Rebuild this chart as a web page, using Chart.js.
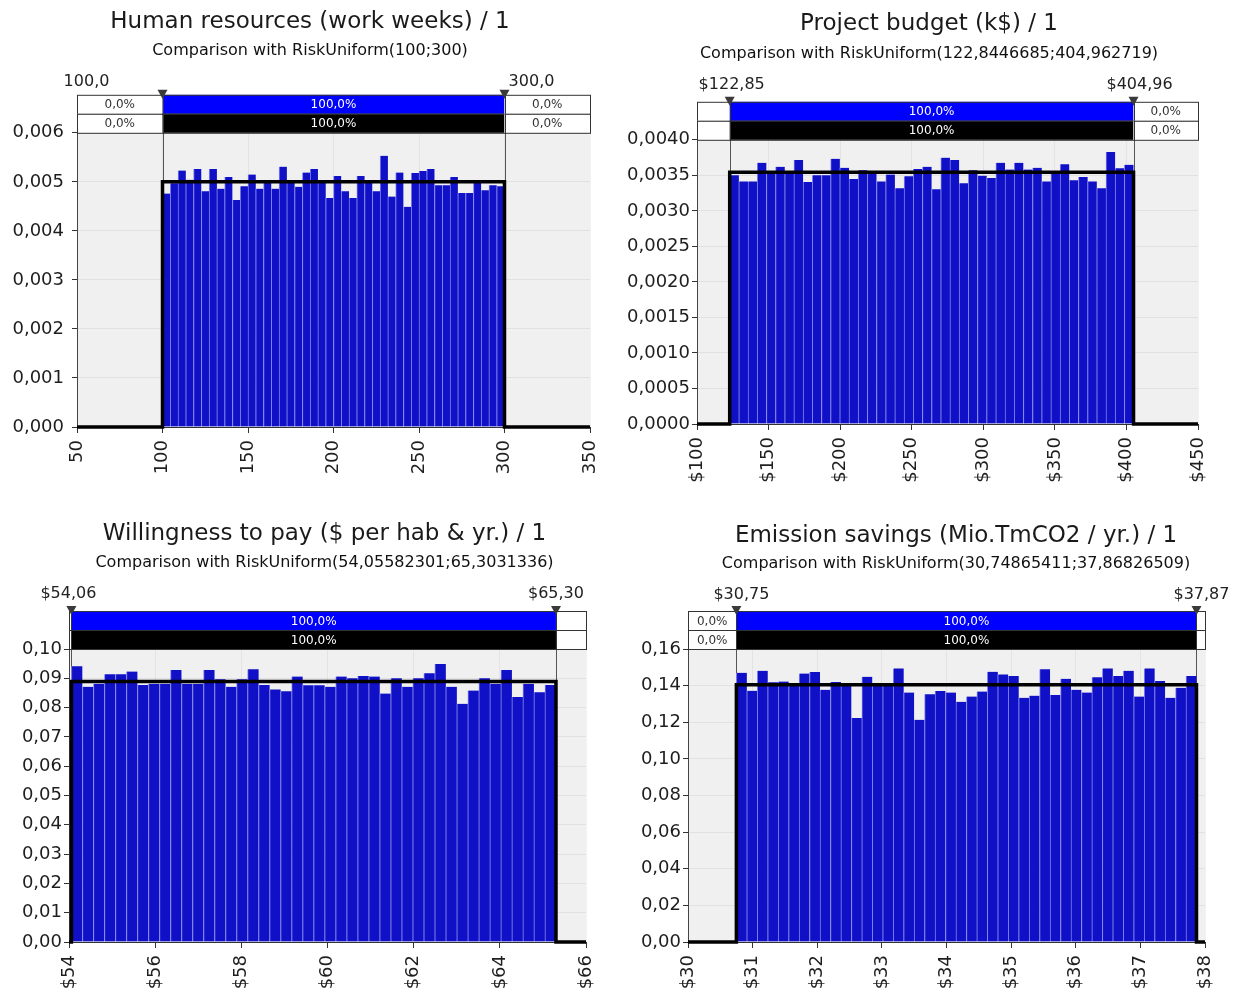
<!DOCTYPE html>
<html><head><meta charset="utf-8">
<script src="https://cdn.jsdelivr.net/npm/chart.js@4.4.1/dist/chart.umd.min.js"></script>
<style>
html,body{margin:0;padding:0;background:#fff;}
body{width:1241px;height:997px;position:relative;overflow:hidden;}
canvas{position:absolute;}
</style></head><body>
<canvas id="c1" width="620" height="497" style="left:0;top:0"></canvas>
<canvas id="c2" width="621" height="497" style="left:620px;top:0"></canvas>
<canvas id="c3" width="620" height="500" style="left:0;top:497px"></canvas>
<canvas id="c4" width="621" height="500" style="left:620px;top:497px"></canvas>
<script>
// ---------- DATA ----------
const hrTitle = 'Human resources (work weeks) / 1';
const hrSubtitle = 'Comparison with RiskUniform(100;300)';
const hrRange = [100, 300];
const hrDensity = 0.005;
const hrXTicks = [50, 350, 50];
const hrYTicks = [0.006, 0.001, 3];
const hrMarkerLabels = ['100,0', '300,0'];
const hrBandTop = ['0,0%', '100,0%', '0,0%'];
const hrBandBottom = ['0,0%', '100,0%', '0,0%'];
const hrValues = [0.00476,0.00497,0.00523,0.00504,0.00526,0.00481,0.00526,0.00486,0.0051,0.00463,0.00491,0.00515,0.00486,0.00498,0.00486,0.00531,0.00498,0.0049,0.00519,0.00526,0.00498,0.00467,0.00512,0.00481,0.00467,0.00512,0.00498,0.00481,0.00553,0.0047,0.00519,0.00449,0.00518,0.00522,0.00526,0.00493,0.00493,0.0051,0.00477,0.00477,0.00498,0.00483,0.00493,0.00491];

const budgetTitle = 'Project budget (k$) / 1';
const budgetSubtitle = 'Comparison with RiskUniform(122,8446685;404,962719)';
const budgetRange = [122.8446685, 404.962719];
const budgetDensity = 0.003545;
const budgetXTicks = [100, 450, 50];
const budgetYTicks = [0.004, 0.0005, 4];
const budgetMarkerLabels = ['$122,85', '$404,96'];
const budgetBandTop = ['', '100,0%', '0,0%'];
const budgetBandBottom = ['', '100,0%', '0,0%'];
const budgetValues = [0.0035,0.003414,0.003414,0.003676,0.003557,0.003619,0.003557,0.003714,0.003405,0.0035,0.0035,0.003733,0.003605,0.003448,0.003571,0.003543,0.003414,0.00351,0.003319,0.003486,0.00359,0.003619,0.003305,0.003748,0.003714,0.00339,0.003571,0.003495,0.003462,0.003676,0.003581,0.003676,0.003581,0.003605,0.003414,0.003543,0.003657,0.003429,0.003476,0.003414,0.003319,0.003829,0.0036,0.003648];

const wtpTitle = 'Willingness to pay ($ per hab & yr.) / 1';
const wtpSubtitle = 'Comparison with RiskUniform(54,05582301;65,3031336)';
const wtpRange = [54.05582301, 65.3031336];
const wtpDensity = 0.0889;
const wtpXTicks = [54, 66, 2];
const wtpYTicks = [0.10, 0.01, 2];
const wtpMarkerLabels = ['$54,06', '$65,30'];
const wtpBandTop = ['', '100,0%', ''];
const wtpBandBottom = ['', '100,0%', ''];
const wtpValues = [0.0941,0.0871,0.0881,0.0914,0.0914,0.0923,0.0877,0.0881,0.0881,0.0928,0.0881,0.0881,0.0928,0.0897,0.0871,0.0897,0.0931,0.0877,0.0862,0.0856,0.0906,0.0876,0.0876,0.0871,0.0906,0.09,0.0908,0.0906,0.0848,0.09,0.0871,0.09,0.0917,0.0949,0.0871,0.0813,0.0858,0.09,0.0881,0.0928,0.0836,0.0881,0.0852,0.0877];

const emTitle = 'Emission savings (Mio.TmCO2 / yr.) / 1';
const emSubtitle = 'Comparison with RiskUniform(30,74865411;37,86826509)';
const emRange = [30.74865411, 37.86826509];
const emDensity = 0.1405;
const emXTicks = [30, 38, 1];
const emYTicks = [0.16, 0.02, 2];
const emMarkerLabels = ['$30,75', '$37,87'];
const emBandTop = ['0,0%', '100,0%', ''];
const emBandBottom = ['0,0%', '100,0%', ''];
const emValues = [0.1470,0.1372,0.1481,0.1418,0.1422,0.1411,0.1466,0.1474,0.1377,0.1420,0.1411,0.1223,0.1448,0.1414,0.1411,0.1494,0.1362,0.1213,0.1353,0.1370,0.1362,0.1312,0.1340,0.1368,0.1476,0.1461,0.1452,0.1334,0.1345,0.1489,0.1349,0.1437,0.1377,0.1362,0.1446,0.1494,0.1452,0.1481,0.1340,0.1494,0.1425,0.1334,0.1388,0.1452];

// ---------- RENDERING ----------
const FONT = '"DejaVu Sans", Verdana, sans-serif';
const BAR = '#1010c6';

const decor = {
  id: 'decor',
  afterLayout(chart, args, o) {
    for (const b of chart.boxes) {
      if (b.options && typeof b.options.text === 'string') { b.left += o.titleDx; b.right += o.titleDx; }
    }
  },
  beforeDraw(chart, args, o) {
    const {ctx, chartArea: a} = chart;
    ctx.save();
    ctx.fillStyle = '#f0f0f0';
    ctx.fillRect(a.left, a.top, a.right - a.left, a.bottom - a.top);
    ctx.restore();
  },
  beforeDatasetsDraw(chart, args, o) {
    const {ctx, chartArea: a, scales: {x}} = chart;
    ctx.save();
    ctx.strokeStyle = '#555'; ctx.lineWidth = 1;
    for (const v of o.range) {
      const px = Math.round(x.getPixelForValue(v)) + 0.5;
      ctx.beginPath(); ctx.moveTo(px, a.top); ctx.lineTo(px, a.bottom); ctx.stroke();
    }
    ctx.restore();
  },
  afterDraw(chart, args, o) {
    const {ctx, chartArea: a, scales: {x}} = chart;
    const p0 = x.getPixelForValue(o.range[0]), p1 = x.getPixelForValue(o.range[1]);
    const h = 19;
    const rows = [{y: a.top - 2 * h, col: '#0000ff', t: o.bandTop}, {y: a.top - h, col: '#000000', t: o.bandBottom}];
    ctx.save();
    ctx.font = '12px ' + FONT; ctx.textAlign = 'center'; ctx.textBaseline = 'middle';
    for (const r of rows) {
      const cells = [[a.left, p0, '#ffffff'], [p0, p1, r.col], [p1, a.right, '#ffffff']];
      cells.forEach((c, i) => {
        ctx.fillStyle = c[2]; ctx.fillRect(c[0], r.y, c[1] - c[0], h);
        ctx.strokeStyle = '#333'; ctx.lineWidth = 1;
        ctx.strokeRect(Math.round(c[0]) + 0.5, r.y + 0.5, Math.round(c[1]) - Math.round(c[0]), h);
        if (r.t[i] && c[1] - c[0] > 25) {
          ctx.fillStyle = i === 1 ? '#ffffff' : '#333';
          ctx.fillText(r.t[i], (c[0] + c[1]) / 2, r.y + h / 2 + 1);
        }
      });
    }
    // markers + labels
    ctx.fillStyle = '#3a3a3a';
    [p0, p1].forEach((p) => {
      const ty = a.top - 2 * h;
      ctx.beginPath(); ctx.moveTo(p - 5, ty - 5); ctx.lineTo(p + 5, ty - 5); ctx.lineTo(p, ty + 4); ctx.closePath(); ctx.fill();
    });
    ctx.font = '16px ' + FONT; ctx.fillStyle = '#222';
    [p0, p1].forEach((p, i) => {
      ctx.fillText(o.markerLabels[i], p + o.labelDx[i], a.top - 2 * h - o.labelDy);
    });
    ctx.restore();
  }
};

function centers(range, n) {
  const w = (range[1] - range[0]) / n;
  return Array.from({length: n}, (_, i) => range[0] + w * (i + 0.5));
}

function makePanel(id, d, L) {
  const c = centers(d.range, d.values.length);
  const barData = d.values.map((v, i) => ({x: c[i], y: v}));
  const theo = [
    {x: d.xTicks[0], y: 0}, {x: d.range[0], y: 0}, {x: d.range[0], y: d.density},
    {x: d.range[1], y: d.density}, {x: d.range[1], y: 0}, {x: d.xTicks[1], y: 0}
  ];
  new Chart(document.getElementById(id), {
    type: 'bar',
    data: {
      datasets: [
        {type: 'line', data: theo, borderColor: '#000', borderWidth: 3.5, pointRadius: 0, fill: false, tension: 0, order: 0, clip: false},
        {type: 'bar', data: barData, backgroundColor: BAR, borderColor: '#8080f0', borderWidth: {left: 1, right: 0, top: 0, bottom: 0}, borderSkipped: false, barPercentage: 1, categoryPercentage: 1, order: 1}
      ]
    },
    options: {
      responsive: false, animation: false, events: [], devicePixelRatio: 1,
      layout: {padding: {left: 0, right: L.pr, top: 0, bottom: 0}},
      plugins: {
        legend: {display: false}, tooltip: {enabled: false},
        title: {display: true, text: d.title, color: '#1a1a1a', font: {family: FONT, size: 23, weight: 'normal'}, padding: {top: L.tp[0], bottom: L.tp[1]}},
        subtitle: {display: true, text: d.subtitle, color: '#111', font: {family: FONT, size: 16, weight: 'normal'}, padding: {top: L.sp[0], bottom: L.sp[1]}},
        decor: {range: d.range, bandTop: d.bandTop, bandBottom: d.bandBottom, markerLabels: d.markerLabels, labelDx: L.labelDx, labelDy: L.labelDy, titleDx: L.titleDx}
      },
      scales: {
        x: {
          type: 'linear', min: d.xTicks[0], max: d.xTicks[1], offset: false,
          afterFit: s => { s.height = L.xh; },
          border: {display: true, color: '#333'},
          grid: {offset: false, color: 'rgba(0,0,0,0.05)', tickColor: '#333', tickLength: 6},
          ticks: {stepSize: d.xTicks[2], autoSkip: false, minRotation: 90, maxRotation: 90, padding: 7, color: '#1e1e1e',
                  font: {family: FONT, size: 18}, callback: v => d.prefix + v}
        },
        y: {
          min: 0, max: d.yTicks[0],
          afterFit: s => { s.width = L.yw; },
          border: {display: true, color: '#444'},
          grid: {color: 'rgba(0,0,0,0.06)', tickColor: '#333', tickLength: 5},
          ticks: {stepSize: d.yTicks[1], padding: L.ypad, color: '#1e1e1e', font: {family: FONT, size: 18},
                  callback: v => v.toFixed(d.yTicks[2]).replace('.', ',')}
        }
      }
    },
    plugins: [decor]
  });
}

makePanel('c1', {title: hrTitle, subtitle: hrSubtitle, range: hrRange, density: hrDensity, xTicks: hrXTicks, yTicks: hrYTicks,
  markerLabels: hrMarkerLabels, bandTop: hrBandTop, bandBottom: hrBandBottom, values: hrValues, prefix: ''},
  {pr: 30, yw: 77, xh: 70, tp: [8, 2], sp: [4, 72], titleDx: 15, labelDx: [-76, 27], labelDy: 13, ypad: 8});

makePanel('c2', {title: budgetTitle, subtitle: budgetSubtitle, range: budgetRange, density: budgetDensity, xTicks: budgetXTicks, yTicks: budgetYTicks,
  markerLabels: budgetMarkerLabels, bandTop: budgetBandTop, bandBottom: budgetBandBottom, values: budgetValues, prefix: '$'},
  {pr: 43, yw: 77, xh: 73, tp: [10, 2], sp: [4.6, 76.4], titleDx: 20, labelDx: [2, 6], labelDy: 17, ypad: 2});

makePanel('c3', {title: wtpTitle, subtitle: wtpSubtitle, range: wtpRange, density: wtpDensity, xTicks: wtpXTicks, yTicks: wtpYTicks,
  markerLabels: wtpMarkerLabels, bandTop: wtpBandTop, bandBottom: wtpBandBottom, values: wtpValues, prefix: '$'},
  {pr: 34, yw: 69, xh: 55, tp: [23.2, 2], sp: [3.6, 76.4], titleDx: 31.5, labelDx: [-3, 0], labelDy: 17, ypad: 2});

makePanel('c4', {title: emTitle, subtitle: emSubtitle, range: emRange, density: emDensity, xTicks: emXTicks, yTicks: emYTicks,
  markerLabels: emMarkerLabels, bandTop: emBandTop, bandBottom: emBandBottom, values: emValues, prefix: '$'},
  {pr: 36, yw: 68, xh: 55, tp: [25.2, 2], sp: [2.6, 75.4], titleDx: 43.5, labelDx: [5, 5], labelDy: 16, ypad: 2});
</script>
</body></html>
